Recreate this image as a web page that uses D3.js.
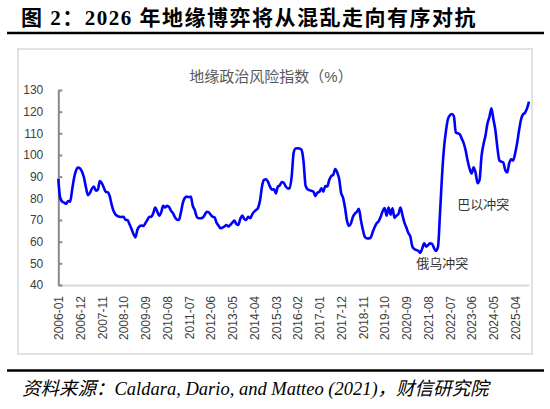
<!DOCTYPE html>
<html>
<head>
<meta charset="utf-8">
<script src="https://cdn.jsdelivr.net/npm/d3@7"></script>
<style>
  body { margin: 0; background: #fff; }
</style>
</head>
<body>
<div id="chart"></div>
<script>
// monthly geopolitical risk index, 2006-01 .. 2025-11
const gprValues = [
  89, 80, 78.5, 78, 77.5, 78.8, 78.5, 84, 89.5, 93, 94.2, 93.8,
  92.3, 89.5, 85, 81.5, 82.5, 84.5, 85.4, 83.5, 84, 88, 87, 85,
  83, 82.8, 81, 77, 74, 72.5, 71.8, 71.5, 71.4, 71.5, 70, 70,
  68, 66, 63.5, 62, 65.5, 67, 67.4, 67.2, 68.5, 70, 71.5, 71.4,
  73.1, 75.7, 74, 72, 73.5, 76.5, 75.8, 76.5, 76, 74.2, 73.2, 71.2,
  70.2, 70, 73.5, 78, 80.2, 80.8, 80.5, 80.8, 76.5, 74.6, 71.5, 70.8,
  70.8, 71.1, 72.3, 73.8, 73.5, 72.5, 71.5, 71.2, 68.8, 67.5, 66.2, 66.5,
  67, 67.7, 67, 67.8, 68.8, 69.7, 68.2, 67.7, 70.5, 72, 70.5, 70,
  71.5, 70.8, 72.5, 73.8, 74.6, 75.6, 79, 85.5, 88.5, 88.8, 87.7, 85.5,
  84, 84.3, 82.3, 85.4, 86, 87.5, 87.2, 85.5, 84.6, 84.6, 90, 101,
  103, 103.1, 103, 102.3, 97, 86, 84.2, 83.8, 83.5, 83.1, 81.1, 82.6,
  83, 84.6, 83.1, 85.7, 85.5, 88.5, 90.3, 90.8, 93.5, 92, 89, 82.5,
  80.2, 75.5, 69.5, 67.2, 68.5, 71.5, 73, 73.8, 75.2, 70, 65.5, 62.2,
  61.5, 61.5, 62, 64.5, 66.8, 68.5, 69.5, 71.5, 74, 75.5, 72, 75.8,
  72.5, 75.4, 71, 72, 72.8, 75.8, 72.3, 68.8, 66.5, 64, 62.3, 57.8,
  56.6, 56.2, 55.8, 54.8, 56.8, 59.2, 57.7, 58.5, 59.2, 59, 57, 55.8,
  57.7, 73, 90, 103, 111, 116.5, 118.3, 118.9, 118, 110.3, 110, 109.6,
  107.5, 105.4, 102, 97.2, 93.6, 91.5, 94.3, 91.8, 87, 88.5, 99.5, 105,
  109, 114.5, 117.6, 121.5, 116.5, 111.5, 103.5, 97.6, 96.9, 96.5, 93, 92,
  96.2, 98, 97.5, 100.8, 105.5, 111.5, 116.5, 118.8, 119.5, 121.5, 124.6
]

// month labels, one per value
const months = []
for (let i = 0; i < gprValues.length; i++) {
  const y = 2006 + Math.floor(i / 12)
  const m = (i % 12) + 1
  months.push(y + "-" + (m < 10 ? "0" + m : m))
}

const xTickLabels = [
  "2006-01", "2006-12", "2007-11", "2008-10", "2009-09", "2010-08",
  "2011-07", "2012-06", "2013-05", "2014-04", "2015-03", "2016-02",
  "2017-01", "2017-12", "2018-11", "2019-10", "2020-09", "2021-08",
  "2022-07", "2023-06", "2024-05", "2025-04"
]
const yTicks = [40, 50, 60, 70, 80, 90, 100, 110, 120, 130]

const notes = [
  { label: "俄乌冲突", month: "2021-08", value: 47.8, dx: 14 },
  { label: "巴以冲突", month: "2023-06", value: 75.1, dx: 11.5 }
]

const sans = "'Liberation Sans', 'Noto Sans CJK SC', sans-serif"
const serif = "'Liberation Serif', 'Noto Sans CJK SC', serif"

const width = 550
const height = 409

const svg = d3.select("#chart")
  .append("svg")
  .attr("width", width)
  .attr("height", height)

svg.append("rect")
  .attr("width", width)
  .attr("height", height)
  .attr("fill", "#fff")

// heading
svg.append("text")
  .attr("x", 21)
  .attr("y", 25)
  .style("font-family", serif)
  .style("font-size", "21px")
  .style("font-weight", "bold")
  .style("letter-spacing", "1.5px")
  .attr("fill", "#000")
  .text("图 2：2026 年地缘博弈将从混乱走向有序对抗")

svg.append("line")
  .attr("x1", 7).attr("x2", 544)
  .attr("y1", 33).attr("y2", 33)
  .attr("stroke", "#000")
  .attr("stroke-width", 2.5)

// chart frame
svg.append("rect")
  .attr("x", 18)
  .attr("y", 49)
  .attr("width", 514)
  .attr("height", 305)
  .attr("fill", "none")
  .attr("stroke", "#d9d9d9")
  .attr("stroke-width", 1.5)

svg.append("text")
  .attr("x", 271)
  .attr("y", 82)
  .attr("text-anchor", "middle")
  .style("font-family", sans)
  .style("font-size", "15px")
  .attr("fill", "#595959")
  .text("地缘政治风险指数（%）")

const x = d3.scalePoint()
  .domain(months)
  .range([58.3, 529])

const y = d3.scaleLinear()
  .domain([40, 130])
  .range([285, 90])

// x axis
const xAxis = svg.append("g")
  .attr("transform", "translate(0,285)")
  .call(d3.axisBottom(x).tickValues(xTickLabels).tickSize(0).tickSizeOuter(0))

xAxis.select(".domain")
  .attr("stroke", "#d9d9d9")
  .attr("stroke-width", 2)

xAxis.selectAll("text")
  .attr("transform", "rotate(-90)")
  .attr("x", -11)
  .attr("y", 0)
  .attr("dy", "0.35em")
  .attr("text-anchor", "end")
  .style("font-size", "12px")
  .style("font-family", sans)
  .attr("fill", "#404040")

// y axis, ticks pointing into the plot
const yAxis = svg.append("g")
  .attr("transform", "translate(58.3,0)")
  .call(d3.axisLeft(y).tickValues(yTicks).tickSizeInner(-4).tickSizeOuter(0).tickPadding(15))

yAxis.select(".domain")
  .attr("stroke", "#898989")
  .attr("stroke-width", 2)

yAxis.selectAll(".tick line")
  .attr("stroke", "#898989")
  .attr("stroke-width", 2)

yAxis.selectAll("text")
  .style("font-size", "12px")
  .style("font-family", sans)
  .attr("fill", "#404040")

// series
const line = d3.line()
  .x((d, i) => x(months[i]))
  .y((d) => y(d))
  .curve(d3.curveMonotoneX)

svg.append("path")
  .datum(gprValues)
  .attr("d", line)
  .attr("fill", "none")
  .attr("stroke", "#0000ff")
  .attr("stroke-width", 2.6)
  .attr("stroke-linejoin", "round")

svg.selectAll(".note")
  .data(notes)
  .join("text")
  .attr("class", "note")
  .attr("x", (d) => x(d.month) + d.dx)
  .attr("y", (d) => y(d.value))
  .attr("text-anchor", "middle")
  .style("font-family", sans)
  .style("font-size", "13px")
  .attr("fill", "#333")
  .text((d) => d.label)

// footer
svg.append("line")
  .attr("x1", 7).attr("x2", 544)
  .attr("y1", 370.5).attr("y2", 370.5)
  .attr("stroke", "#000")
  .attr("stroke-width", 2.5)

svg.append("text")
  .attr("x", 22)
  .attr("y", 395)
  .style("font-family", serif)
  .style("font-size", "18.5px")
  .style("font-style", "italic")
  .attr("fill", "#000")
  .text("资料来源：Caldara, Dario, and Matteo (2021)，财信研究院")
</script>
</body>
</html>
